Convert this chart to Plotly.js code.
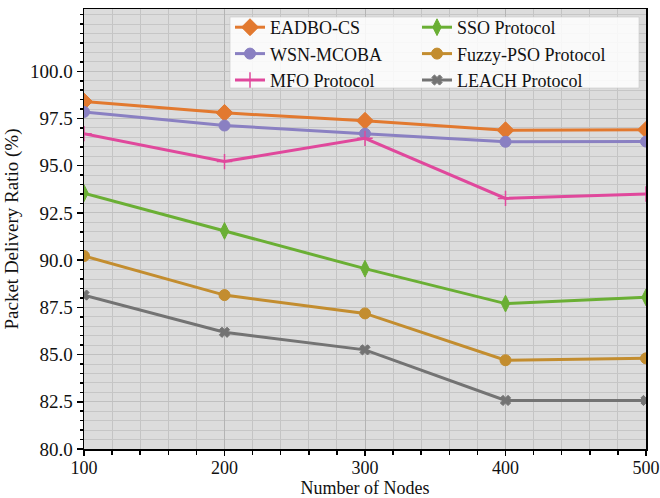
<!DOCTYPE html>
<html>
<head>
<meta charset="utf-8">
<script src="https://cdn.plot.ly/plotly-3.0.1.min.js"></script>
<style>html,body{margin:0;padding:0;background:#fff;}#chart{width:660px;height:498px;}</style>
</head>
<body>
<div id="chart"></div>
<script>
const nodes = [100, 200, 300, 400, 500];
const eadboCS = [98.4, 97.8, 97.38, 96.88, 96.9];
const wsnMcoba = [97.85, 97.13, 96.7, 96.27, 96.28];
const mfo = [96.7, 95.22, 96.45, 93.27, 93.5];
const sso = [93.55, 91.55, 89.55, 87.7, 88.03];
const fuzzyPso = [90.22, 88.15, 87.18, 84.7, 84.8];
const leach = [88.15, 86.18, 85.25, 82.57, 82.57];
const yTicks = [80, 82.5, 85, 87.5, 90, 92.5, 95, 97.5, 100];
const yTickText = ["80.0", "82.5", "85.0", "87.5", "90.0", "92.5", "95.0", "97.5", "100.0"];

function tr(name, y, color, symbol, size, legend, lw) {
  return {
    x: nodes, y: y, name: name, type: 'scatter', mode: 'lines+markers',
    line: {color: color, width: 3},
    marker: {symbol: symbol, size: size, color: color, line: {color: color, width: lw || 1}},
    cliponaxis: true, legend: legend
  };
}

const traces = [
  tr('EADBO-CS', eadboCS, '#E2792F', 'diamond', 13, 'legend'),
  tr('WSN-MCOBA', wsnMcoba, '#8A80C2', 'circle', 11, 'legend'),
  tr('MFO Protocol', mfo, '#E0489C', 'cross-thin', 11, 'legend', 1.5),
  tr('SSO Protocol', sso, '#6AAF34', 'diamond-tall', 12, 'legend2'),
  tr('Fuzzy-PSO Protocol', fuzzyPso, '#C38D2F', 'circle', 11, 'legend2'),
  tr('LEACH Protocol', leach, '#737373', 'x', 9, 'legend2')
];

const fam = '"Liberation Serif", "Times New Roman", serif';
const txt = '#111';

function px2x(p) { return (p - 84) / 562; }
function px2y(p) { return (449 - p) / 440; }

const legendBase = {
  orientation: 'v', yanchor: 'top', xanchor: 'left',
  bgcolor: 'rgba(0,0,0,0)', borderwidth: 0, itemwidth: 30,
  font: {family: fam, size: 18, color: txt}, tracegroupgap: 0
};

const layout = {
  width: 660, height: 498,
  margin: {l: 84, r: 14, t: 9, b: 49},
  paper_bgcolor: '#ffffff',
  plot_bgcolor: '#DCDCDC',
  font: {family: fam, size: 18, color: txt},
  showlegend: true,
  legend: Object.assign({}, legendBase, {x: px2x(230), y: px2y(9)}),
  legend2: Object.assign({}, legendBase, {x: px2x(417), y: px2y(9)}),
  shapes: [{
    type: 'rect', xref: 'paper', yref: 'paper', layer: 'above',
    x0: px2x(230), x1: px2x(639), y0: px2y(88), y1: px2y(17),
    fillcolor: 'rgba(255,255,255,0.85)', line: {color: 'rgba(200,200,200,0.6)', width: 1}
  }],
  xaxis: {
    range: [100, 500], tickvals: nodes, ticktext: nodes.map(String),
    showline: true, linecolor: '#000', linewidth: 1.5, mirror: true,
    ticks: 'outside', ticklen: 5, tickcolor: '#000', tickwidth: 1.5,
    ticklabeloverflow: 'allow', ticklabelstandoff: -3,
    showgrid: true, gridcolor: '#B4B4B4', gridwidth: 1, zeroline: false,
    minor: {dtick: 20, tick0: 100, ticks: 'outside', ticklen: 4, tickcolor: '#000', showgrid: true, gridcolor: '#C4C4C4', gridwidth: 1},
    title: {text: 'Number of Nodes', font: {family: fam, size: 18, color: txt}, standoff: 6},
    tickfont: {family: fam, size: 18, color: txt}
  },
  yaxis: {
    range: [80, 103.3], tickmode: 'array', tickvals: yTicks, ticktext: yTickText,
    showline: true, linecolor: '#000', linewidth: 1.5, mirror: true,
    ticks: 'outside', ticklen: 6, tickcolor: '#000', tickwidth: 1.5,
    showgrid: true, gridcolor: '#C0C0C0', gridwidth: 1, zeroline: false,
    minor: {tickmode: 'linear', dtick: 0.5, tick0: 80, ticks: 'outside', ticklen: 3, tickcolor: '#000', showgrid: true, gridcolor: '#C6C6C6', gridwidth: 1},
    title: {text: 'Packet Delivery Ratio (%)', font: {family: fam, size: 19, color: txt}, standoff: 6},
    tickfont: {family: fam, size: 19, color: txt}
  }
};

Plotly.newPlot('chart', traces, layout, {displayModeBar: false, staticPlot: true});
</script>
</body>
</html>
